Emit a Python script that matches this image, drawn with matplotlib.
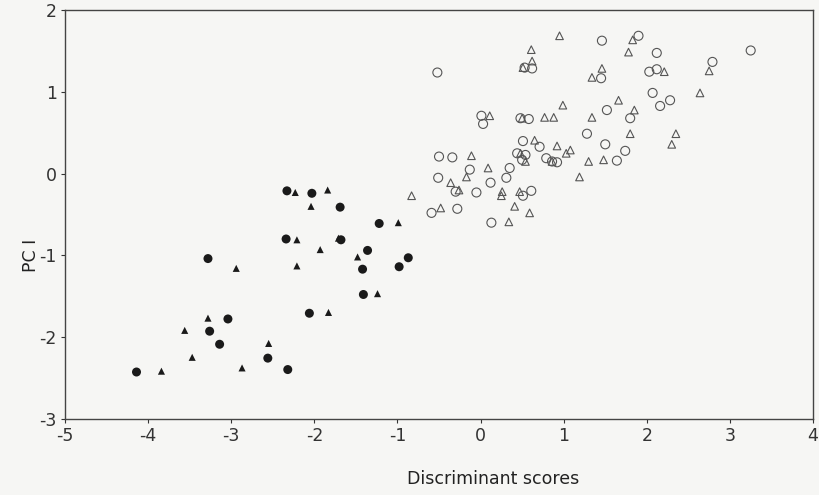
import matplotlib
matplotlib.use("Agg")
import matplotlib.pyplot as plt

plt.rcParams['axes.unicode_minus'] = False

# group A (filled markers)
a_circ_x = [-2.33, -2.03, -2.34, -3.28, -2.06, -3.04, -3.26, -3.14, -2.56, -4.14, -2.32,
            -1.69, -1.22, -1.68, -1.36, -0.87, -1.42, -0.98, -1.41]
a_circ_y = [-0.21, -0.24, -0.80, -1.04, -1.71, -1.78, -1.93, -2.09, -2.26, -2.43, -2.40,
            -0.41, -0.61, -0.81, -0.94, -1.03, -1.17, -1.14, -1.48]
a_tri_x = [-2.23, -2.04, -2.21, -2.94, -2.21, -3.28, -3.56, -2.55, -3.47, -3.84, -2.87,
           -1.84, -0.99, -1.71, -1.93, -1.48, -1.24, -1.83]
a_tri_y = [-0.23, -0.40, -0.81, -1.16, -1.13, -1.77, -1.92, -2.08, -2.25, -2.42, -2.38,
           -0.20, -0.60, -0.79, -0.93, -1.02, -1.47, -1.70]

# group B (open markers)
b_circ_x = [-0.52, 1.46, 0.62, 0.53, 1.45, 1.52, 0.01, 0.03, 0.48, 0.58, 1.28, 0.51,
            0.71, 1.50, 0.44, 0.54, 0.50, 0.79, 0.86, 0.92, -0.50, -0.34, -0.13, 0.35,
            0.31, -0.51, 0.12, -0.30, -0.05, 0.61, 0.51, -0.59, -0.28, 0.13, 1.64,
            1.90, 2.12, 3.25, 2.79, 2.03, 2.12, 2.07, 2.28, 2.16, 1.80, 1.74]
b_circ_y = [1.24, 1.63, 1.29, 1.30, 1.17, 0.78, 0.71, 0.61, 0.68, 0.67, 0.49, 0.40,
            0.33, 0.36, 0.25, 0.23, 0.17, 0.19, 0.15, 0.14, 0.21, 0.20, 0.05, 0.07,
            -0.05, -0.05, -0.11, -0.22, -0.23, -0.21, -0.27, -0.48, -0.43, -0.60, 0.16,
            1.69, 1.48, 1.51, 1.37, 1.25, 1.28, 0.99, 0.90, 0.83, 0.68, 0.28]
b_tri_x = [0.95, 0.61, 0.62, 0.51, 1.46, 1.34, 0.99, 1.66, 0.11, 0.50, 0.77, 0.88,
           1.34, 0.65, 0.92, 1.03, 1.08, -0.11, 0.48, 0.54, 0.86, 1.30, 1.48, 0.09,
           -0.17, -0.36, 1.19, -0.26, 0.26, 0.47, 0.25, 0.41, -0.48, 0.59, 0.34,
           1.83, 1.78, 2.21, 2.75, 2.64, 1.85, 1.80, 2.35, 2.30, -0.83]
b_tri_y = [1.69, 1.52, 1.38, 1.30, 1.29, 1.18, 0.84, 0.90, 0.71, 0.68, 0.69, 0.69,
           0.69, 0.41, 0.34, 0.25, 0.29, 0.22, 0.25, 0.15, 0.15, 0.15, 0.17, 0.07,
           -0.04, -0.11, -0.04, -0.20, -0.22, -0.22, -0.27, -0.40, -0.42, -0.48, -0.59,
           1.64, 1.49, 1.25, 1.26, 0.99, 0.78, 0.49, 0.49, 0.36, -0.27]

bg = "#f6f6f4"
ink = "#1a1a1a"

fig = plt.figure(figsize=(8.19, 4.95), dpi=100, facecolor=bg)
ax = fig.add_axes([0.0794, 0.1545, 0.9133, 0.8243])
ax.set_facecolor(bg)

ax.scatter(a_circ_x, a_circ_y, marker="o", s=42, color=ink, edgecolors="none")
ax.scatter(a_tri_x, a_tri_y, marker="^", s=26, color=ink, edgecolors="none")
ax.scatter(b_circ_x, b_circ_y, marker="o", s=42, facecolors="none", edgecolors="#555555", linewidths=0.8)
ax.scatter(b_tri_x, b_tri_y, marker="^", s=30, facecolors="none", edgecolors="#555555", linewidths=0.8)

ax.set_xlim(-5, 4)
ax.set_ylim(-3, 2)
ax.set_xticks(range(-5, 5))
ax.set_yticks(range(-3, 3))
ax.tick_params(direction="out", length=3, width=0.8, colors="#333333", labelsize=12.5, pad=3)
for sp in ax.spines.values():
    sp.set_color("#444444")
    sp.set_linewidth(1.0)

ax.set_xlabel("Discriminant scores", fontsize=12.5, color="#222222")
ax.xaxis.set_label_coords(0.572, -0.125)
ax.set_ylabel("PC I", fontsize=12.5, color="#222222")
ax.yaxis.set_label_coords(-0.033, 0.40)

fig.savefig("out.png", dpi=100, facecolor=bg)
